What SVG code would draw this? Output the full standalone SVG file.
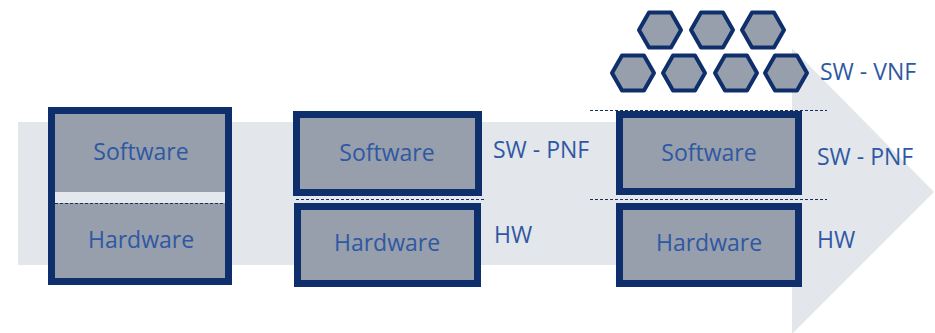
<svg xmlns="http://www.w3.org/2000/svg" width="935" height="333" viewBox="0 0 935 333">
<style>
.box{fill:#969fab;stroke:#0e2f6b;stroke-width:7}
.hex{fill:#969fab;stroke:#0e2f6b;stroke-width:4;stroke-linejoin:round}
.t{font-family:"Open Sans","Noto Sans",sans-serif;font-size:23px;fill:#2f58a3}
.lbl{font-family:"Open Sans","Noto Sans",sans-serif;font-size:23px;fill:#2f58a3}
.dash{stroke:#1b2f5c;stroke-width:1.2;stroke-dasharray:3 2;fill:none}
</style>
<defs>
<path id="hx" d="M-21,0 L-11,-17.5 L11,-17.5 L21,0 L11,17.5 L-11,17.5 Z"/>
</defs>
<g id="arrow">
<path d="M18,122 H792 V48 L934,192 L792,334 V265 H18 Z" fill="#e3e6eb"/>
</g>
<g id="stack1">
<rect class="box" x="51.5" y="110.5" width="177" height="171"/>
<rect x="55" y="192" width="170" height="11" fill="#e4e7ec"/>
<line class="dash" x1="55" y1="203.5" x2="225" y2="203.5"/>
<text class="t" x="141" y="160" text-anchor="middle">Software</text>
<text class="t" x="141" y="248" text-anchor="middle">Hardware</text>
</g>
<g id="sw2">
<rect class="box" x="296.5" y="114.5" width="182" height="78"/>
<text class="t" x="387" y="161" text-anchor="middle">Software</text>
</g>
<g id="hw2">
<rect class="box" x="297.5" y="206.5" width="180" height="77"/>
<text class="t" x="387" y="251" text-anchor="middle">Hardware</text>
</g>
<g id="sw3">
<rect class="box" x="619.5" y="114.5" width="179" height="77"/>
<text class="t" x="709" y="161" text-anchor="middle">Software</text>
</g>
<g id="hw3">
<rect class="box" x="619.5" y="206.5" width="179" height="77"/>
<text class="t" x="709" y="251" text-anchor="middle">Hardware</text>
</g>
<g id="vnf">
<use href="#hx" class="hex" x="660" y="30"/>
<use href="#hx" class="hex" x="712" y="30"/>
<use href="#hx" class="hex" x="763" y="30"/>
<use href="#hx" class="hex" x="633" y="73"/>
<use href="#hx" class="hex" x="684" y="73"/>
<use href="#hx" class="hex" x="736" y="73"/>
<use href="#hx" class="hex" x="786" y="73"/>
</g>
<g id="connectors">
<line class="dash" x1="296" y1="199.5" x2="484" y2="199.5"/>
<line class="dash" x1="590" y1="110.5" x2="827" y2="110.5"/>
<line class="dash" x1="590" y1="199.5" x2="827" y2="199.5"/>
</g>
<g id="labels">
<text class="lbl" x="493" y="158">SW - PNF</text>
<text class="lbl" x="494" y="243">HW</text>
<text class="lbl" x="817" y="165">SW - PNF</text>
<text class="lbl" x="817" y="248">HW</text>
<text class="lbl" x="820" y="80">SW - VNF</text>
</g>
</svg>
